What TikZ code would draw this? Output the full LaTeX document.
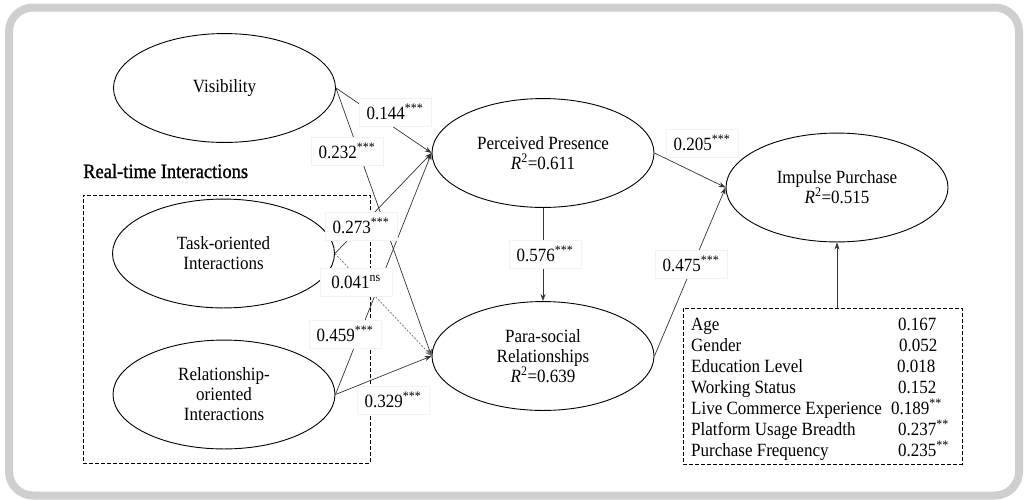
\documentclass[tikz,border=0pt]{standalone}
\usepackage{fontspec}
\setmainfont{Liberation Serif}
\newfontfamily\semibd[FakeBold=1.2]{Liberation Serif}
\usetikzlibrary{shapes.geometric,arrows.meta}
\begin{document}
\begin{tikzpicture}[x=1pt,y=-1pt,
  latent/.style={ellipse,draw=black,line width=0.9pt,fill=white,yscale=1.1,minimum width=222pt,minimum height=99pt,inner sep=0pt,align=center,font=\fontsize{17}{18.2}\selectfont},
  pathline/.style={draw=black!80,line width=0.7pt,-{Stealth[length=7pt,width=5pt]}},
  nspath/.style={pathline,draw=black!55,dash pattern=on 2pt off 1.5pt},
  coef/.style={fill=white,draw=black!5,line width=0.5pt,yscale=1.1,minimum width=72pt,minimum height=25.5pt,inner sep=2pt,font=\fontsize{17}{18.2}\selectfont},
  groupbox/.style={draw=black,line width=0.9pt,dash pattern=on 4pt off 2pt,inner sep=0pt},
  ctrltext/.style={anchor=base west,inner sep=0pt,yscale=1.1,font=\fontsize{17}{18.2}\selectfont}]
\useasboundingbox (0,0) rectangle (1025,499);
\draw[line width=8pt,draw=black!19,rounded corners=24pt] (9,7.5) rectangle (1019,495.5);

% group boxes
\node[groupbox,minimum width=287pt,minimum height=268pt] (rti) at (226.5,329) {};
\node[anchor=base west,inner sep=0pt,yscale=1.1,font=\semibd\fontsize{18.5}{20}\selectfont] (rtil) at (83,178) {Real-time Interactions};
\node[groupbox,minimum width=279pt,minimum height=156pt] (ctrl) at (822.5,386) {};

% latent variables
\node[latent] (vis) at (224.5,88) {Visibility};
\node[latent] (task) at (223.5,253.5) {Task-oriented\\Interactions};
\node[latent] (rel) at (224,394.5) {Relationship-\\oriented\\Interactions};
\node[latent] (pp) at (543,153) {Perceived Presence\\\textit{R}\textsuperscript{2}=0.611};
\node[latent] (para) at (543,356) {Para-social\\Relationships\\\textit{R}\textsuperscript{2}=0.639};
\node[latent] (imp) at (837,187.5) {Impulse Purchase\\\textit{R}\textsuperscript{2}=0.515};

% paths
\draw[pathline] (vis.east) -- (pp.west);
\draw[pathline] (vis.east) -- (para.west);
\draw[pathline] (task.east) -- (pp.west);
\draw[nspath] (task.east) -- (para.west);
\draw[pathline] (rel.east) -- (pp.west);
\draw[pathline] (rel.east) -- (para.west);
\draw[pathline] (pp.south) -- (para.north);
\draw[pathline] (pp.east) -- (imp.west);
\draw[pathline] (para.east) -- (imp.west);
\draw[pathline] (imp.south |- ctrl.north) -- (imp.south);

% coefficients
\node[coef] (l144) at (395,112) {0.144\textsuperscript{***}};
\node[coef] (l232) at (347,151) {0.232\textsuperscript{***}};
\node[coef] (l273) at (361,226) {0.273\textsuperscript{***}};
\node[coef] (l041) at (356,282) {0.041\textsuperscript{ns}};
\node[coef] (l459) at (345,334) {0.459\textsuperscript{***}};
\node[coef] (l329) at (393,400) {0.329\textsuperscript{***}};
\node[coef] (l576) at (545,254) {0.576\textsuperscript{***}};
\node[coef] (l205) at (702,143) {0.205\textsuperscript{***}};
\node[coef] (l475) at (691,264) {0.475\textsuperscript{***}};

% control variables
\node[ctrltext] (c1) at (691,330) {Age};
\node[ctrltext] (v1) at (898,330) {0.167};
\node[ctrltext] (c2) at (691,351) {Gender};
\node[ctrltext] (v2) at (899,351) {0.052};
\node[ctrltext] (c3) at (691,372) {Education Level};
\node[ctrltext] (v3) at (897,372) {0.018};
\node[ctrltext] (c4) at (691,393) {Working Status};
\node[ctrltext] (v4) at (898,393) {0.152};
\node[ctrltext] (c5) at (691,414) {Live Commerce Experience};
\node[ctrltext] (v5) at (891,414) {0.189\textsuperscript{**}};
\node[ctrltext] (c6) at (691,435) {Platform Usage Breadth};
\node[ctrltext] (v6) at (898,435) {0.237\textsuperscript{**}};
\node[ctrltext] (c7) at (691,456) {Purchase Frequency};
\node[ctrltext] (v7) at (898,456) {0.235\textsuperscript{**}};
\end{tikzpicture}
\end{document}
